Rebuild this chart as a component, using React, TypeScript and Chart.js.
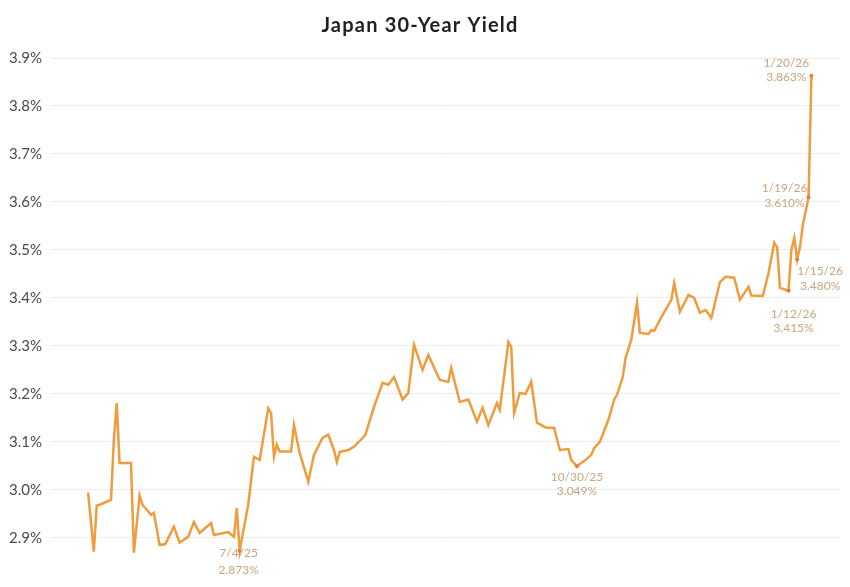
import React, { useEffect, useRef } from "react";
import { Chart, registerables } from "chart.js";

Chart.register(...registerables);

const titleText = "Japan 30-Year Yield";

const dates: string[] = [
  "2025-05-12", "2025-05-14", "2025-05-15", "2025-05-16", "2025-05-20", "2025-05-21", "2025-05-22", "2025-05-23",
  "2025-05-27", "2025-05-28", "2025-05-30", "2025-05-31", "2025-06-03", "2025-06-04", "2025-06-06", "2025-06-08",
  "2025-06-11", "2025-06-13", "2025-06-16", "2025-06-18", "2025-06-20", "2025-06-24", "2025-06-25", "2025-06-30",
  "2025-07-02", "2025-07-03", "2025-07-04", "2025-07-07", "2025-07-09", "2025-07-11", "2025-07-14", "2025-07-15",
  "2025-07-16", "2025-07-17", "2025-07-18", "2025-07-22", "2025-07-23", "2025-07-25", "2025-07-28", "2025-07-30",
  "2025-08-02", "2025-08-04", "2025-08-06", "2025-08-07", "2025-08-08", "2025-08-11", "2025-08-13", "2025-08-16",
  "2025-08-17", "2025-08-20", "2025-08-23", "2025-08-25", "2025-08-27", "2025-08-30", "2025-09-01", "2025-09-03",
  "2025-09-06", "2025-09-08", "2025-09-12", "2025-09-15", "2025-09-16", "2025-09-19", "2025-09-22", "2025-09-23",
  "2025-09-25", "2025-09-27", "2025-09-29", "2025-10-02", "2025-10-03", "2025-10-06", "2025-10-07", "2025-10-08",
  "2025-10-10", "2025-10-12", "2025-10-14", "2025-10-16", "2025-10-19", "2025-10-22", "2025-10-24", "2025-10-27",
  "2025-10-28", "2025-10-30", "2025-10-31", "2025-11-02", "2025-11-04", "2025-11-05", "2025-11-07", "2025-11-10",
  "2025-11-12", "2025-11-13", "2025-11-15", "2025-11-16", "2025-11-18", "2025-11-20", "2025-11-21", "2025-11-24",
  "2025-11-25", "2025-11-26", "2025-11-29", "2025-12-02", "2025-12-03", "2025-12-05", "2025-12-08", "2025-12-10",
  "2025-12-12", "2025-12-14", "2025-12-16", "2025-12-19", "2025-12-21", "2025-12-24", "2025-12-26", "2025-12-29",
  "2025-12-30", "2026-01-03", "2026-01-05", "2026-01-07", "2026-01-08", "2026-01-09", "2026-01-12", "2026-01-13",
  "2026-01-14", "2026-01-15", "2026-01-16", "2026-01-17", "2026-01-19", "2026-01-20",
];

const yields: number[] = [
  2.994, 2.871, 2.967, 2.969, 2.979, 3.104, 3.181, 3.056,
  3.056, 2.869, 2.988, 2.969, 2.948, 2.952, 2.885, 2.887,
  2.923, 2.890, 2.902, 2.933, 2.910, 2.931, 2.906, 2.912,
  2.902, 2.962, 2.873, 2.969, 3.069, 3.062, 3.170, 3.160,
  3.069, 3.094, 3.080, 3.080, 3.135, 3.077, 3.017, 3.073,
  3.108, 3.115, 3.083, 3.058, 3.079, 3.083, 3.090, 3.108,
  3.115, 3.173, 3.223, 3.219, 3.235, 3.188, 3.202, 3.302,
  3.250, 3.281, 3.229, 3.225, 3.254, 3.183, 3.188, 3.173,
  3.142, 3.171, 3.135, 3.181, 3.167, 3.308, 3.298, 3.160,
  3.202, 3.200, 3.225, 3.140, 3.130, 3.129, 3.083, 3.085,
  3.062, 3.049, 3.054, 3.062, 3.073, 3.087, 3.100, 3.146,
  3.188, 3.198, 3.235, 3.275, 3.313, 3.390, 3.327, 3.325,
  3.333, 3.331, 3.365, 3.396, 3.431, 3.371, 3.406, 3.400,
  3.369, 3.375, 3.358, 3.433, 3.444, 3.442, 3.396, 3.423,
  3.405, 3.404, 3.452, 3.515, 3.506, 3.421, 3.415, 3.500,
  3.525, 3.480, 3.506, 3.552, 3.610, 3.863,
];

const yTicks: number[] = [2.9, 3.0, 3.1, 3.2, 3.3, 3.4, 3.5, 3.6, 3.7, 3.8, 3.9];

const annotatedDates: string[] = ["2025-07-04", "2025-10-30", "2026-01-12", "2026-01-15", "2026-01-19", "2026-01-20"];
// label offsets (style): [dx, dyLine1, dyLine2]
const annotationOffsets: number[][] = [
  [-1, 2, 19],
  [0, 11, 25],
  [5, 23, 37],
  [23, 12, 27],
  [-24, -9, 6],
  [-25, -13, 1],
];

const DAY = 86400000;
const toDay = (s: string) => {
  const [y, m, d] = s.split("-").map(Number);
  return Date.UTC(y, m - 1, d) / DAY;
};
const shortDate = (s: string) => {
  const [y, m, d] = s.split("-").map(Number);
  return `${m}/${d}/${String(y).slice(2)}`;
};

const LINE = "#EF9C3E";
const LABEL = "#C7A67E";

const titlePlugin = {
  id: "spacedTitle",
  afterDraw(chart: any) {
    const ctx = chart.ctx;
    ctx.save();
    ctx.font = "bold 20px Lato";
    (ctx as any).letterSpacing = "1.2px";
    ctx.fillStyle = "#1f1f1f";
    ctx.textAlign = "center";
    ctx.textBaseline = "middle";
    ctx.fillText(titleText, 420, 26);
    ctx.restore();
  },
};

const annotationPlugin = {
  id: "pointLabels",
  afterDatasetsDraw(chart: any) {
    const meta = chart.getDatasetMeta(0);
    const ctx = chart.ctx;
    ctx.save();
    ctx.font = "12px Lato";
    ctx.fillStyle = LABEL;
    ctx.textAlign = "center";
    ctx.textBaseline = "middle";
    annotatedDates.forEach((d, i) => {
      const idx = dates.indexOf(d);
      if (idx < 0) return;
      const pt = meta.data[idx];
      const [dx, dy1, dy2] = annotationOffsets[i];
      ctx.fillText(shortDate(d), pt.x + dx, pt.y + dy1);
      ctx.fillText(`${yields[idx].toFixed(3)}%`, pt.x + dx, pt.y + dy2);
    });
    ctx.restore();
  },
};

export default function App() {
  const ref = useRef<HTMLCanvasElement | null>(null);

  useEffect(() => {
    if (!ref.current) return;
    const days = dates.map(toDay);
    const points = days.map((x, i) => ({ x, y: yields[i] }));
    const radii = dates.map((d) => (annotatedDates.includes(d) ? 2 : 0));
    const chart = new Chart(ref.current, {
      type: "line",
      data: {
        datasets: [
          {
            data: points,
            borderColor: LINE,
            backgroundColor: "#E0803A",
            borderWidth: 2.5,
            pointRadius: radii,
            pointHoverRadius: 0,
            pointBorderWidth: 0,
            tension: 0,
            fill: false,
          },
        ],
      },
      options: {
        animation: false,
        responsive: false,
        layout: { autoPadding: false, padding: { left: 0, right: 10, top: 58, bottom: 6 } },
        plugins: {
          legend: { display: false },
          tooltip: { enabled: false },
          title: { display: false },
        },
        scales: {
          x: {
            type: "linear",
            display: false,
            min: days[0] - 13,
            max: days[days.length - 1] + 10,
          },
          y: {
            min: 2.81,
            max: 3.9,
            afterBuildTicks: (scale: any) => {
              scale.ticks = yTicks.map((v) => ({ value: v }));
            },
            afterFit: (scale: any) => {
              scale.paddingTop = 0;
              scale.paddingBottom = 0;
            },
            ticks: {
              color: "#4a4a4a",
              font: { family: "Lato", size: 15 },
              padding: 9,
              callback: (v: any) => `${Number(v).toFixed(1)}%`,
            },
            grid: { color: "#ececec", drawTicks: false },
            border: { display: false },
          },
        },
      },
      plugins: [annotationPlugin, titlePlugin],
    });
    return () => chart.destroy();
  }, []);

  return (
    <div style={{ position: "absolute", left: 0, top: 0, width: 850, height: 587, background: "#fff" }}>
      <canvas ref={ref} width={850} height={587} style={{ display: "block" }} />
    </div>
  );
}
